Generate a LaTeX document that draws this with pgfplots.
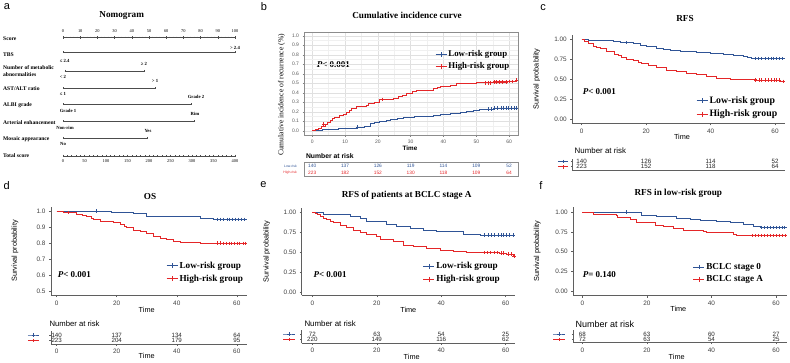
\documentclass[border=0pt]{standalone}
\usepackage{fontspec}
\setmainfont{Liberation Sans}
\newfontfamily\tnr{Liberation Serif}
\usepackage{pgfplots}
\pgfplotsset{compat=1.18}
\definecolor{kmblue}{RGB}{47,84,150}
\definecolor{kmred}{RGB}{228,38,40}
\definecolor{axgray}{RGB}{95,95,95}
\newcommand\fs[1]{\fontsize{#1}{#1}\selectfont}
\pgfplotsset{
  km/.style={scale only axis, anchor=north west, clip=false,
    axis lines*=left, axis line style={axgray, line width=0.55pt},
    tick align=outside, major tick length=2pt, tick style={axgray, line width=0.5pt},
    tick label style={font=\fs{6.4}, text=black!75},
    /pgf/number format/assume math mode=true,
    xtick={0,20,40,60},
    legend image code/.code={\draw[mark repeat=2,mark phase=2,##1] plot coordinates {(0pt,0pt) (5.5pt,0pt) (11pt,0pt)};},
    legend style={draw=none, fill=none, font=\tnr\bfseries\fs{9.2}, anchor=west, inner sep=0pt, row sep=2pt, nodes={inner sep=1.5pt}},
    legend cell align=left},
  cb/.style={kmblue, line width=0.75pt, const plot, mark=none, forget plot},
  cr/.style={kmred, line width=0.75pt, const plot, mark=none, forget plot},
  mb/.style={kmblue, only marks, mark=+, mark size=1.8pt, line width=0.6pt, forget plot},
  mr/.style={kmred, only marks, mark=+, mark size=1.8pt, line width=0.6pt, forget plot},
  lb/.style={kmblue, line width=0.8pt, mark=+, mark size=2.4pt},
  lr/.style={kmred, line width=0.8pt, mark=+, mark size=2.4pt},
  tb/.style={kmblue, line width=0.8pt, mark=+, mark size=1.8pt, mark repeat=2, mark phase=2, forget plot},
  tr/.style={kmred, line width=0.8pt, mark=+, mark size=1.8pt, mark repeat=2, mark phase=2, forget plot},
  risk/.style={scale only axis, anchor=north west, clip=false,
    axis lines*=left, axis line style={axgray, line width=0.55pt},
    tick align=outside, major tick length=1.5pt, tick style={axgray, line width=0.5pt},
    tick label style={font=\fs{6.4}, text=black!75},
    /pgf/number format/assume math mode=true,
    xtick={0,20,40,60}, yticklabels={}},
}
\begin{document}
\begin{tikzpicture}
\path[use as bounding box] (0,0) rectangle (790pt,-362pt);
% ---------- panel letters ----------
\node[font=\fs{11}] at (7pt,-7pt) {a};
\node[font=\fs{11}] at (264pt,-6.5pt) {b};
\node[font=\fs{11}] at (543pt,-7.3pt) {c};
\node[font=\fs{11}] at (6.7pt,-185.5pt) {d};
\node[font=\fs{11}] at (263.5pt,-184.5pt) {e};
\node[font=\fs{11}] at (541pt,-186pt) {f};
% ---------- titles ----------
\node[font=\tnr\bfseries\fs{9.2}] at (121.7pt,-15.7pt) {Nomogram};
\node[font=\tnr\bfseries\fs{9.2}] at (407pt,-15.7pt) {Cumulative incidence curve};
\node[font=\tnr\bfseries\fs{9.2}] at (685pt,-18.3pt) {RFS};
\node[font=\tnr\bfseries\fs{9.2}] at (150pt,-196pt) {OS};
\node[font=\tnr\bfseries\fs{9.2}] at (406.7pt,-195pt) {RFS of patients at BCLC stage A};
\node[font=\tnr\bfseries\fs{9.2}] at (678.3pt,-193.3pt) {RFS in low-risk group};
% ---------- nomogram row labels ----------
\begin{scope}[every node/.style={anchor=west, font=\tnr\bfseries\fs{5.6}, inner sep=0pt}]
\node at (3pt,-38.7pt) {Score};
\node at (3pt,-55pt) {TBS};
\node at (3pt,-67.7pt) {Number of metabolic};
\node at (3pt,-75pt) {abnormalities};
\node at (3pt,-88.7pt) {AST/ALT ratio};
\node at (3pt,-105.3pt) {ALBI grade};
\node at (3pt,-122.3pt) {Arterial enhancement};
\node at (3pt,-138.7pt) {Mosaic appearance};
\node at (3pt,-155.3pt) {Total score};
\end{scope}
% ---------- nomogram ----------
\begin{axis}[scale only axis, anchor=north west, at={(63pt,-20pt)}, width=172pt, height=150pt,
  xmin=0, xmax=100, ymin=-170, ymax=-20, hide axis, clip=false]
\addplot[black!70, line width=0.4pt] coordinates {(0,-37.3) (100,-37.3)};
\addplot[black!70, only marks, mark=|, mark size=1.2pt, line width=0.35pt] coordinates {(0,-37.3) (10,-37.3) (20,-37.3) (30,-37.3) (40,-37.3) (50,-37.3) (60,-37.3) (70,-37.3) (80,-37.3) (90,-37.3) (100,-37.3)};
\addplot[black!70, only marks, mark=|, mark size=0.6pt, line width=0.3pt] coordinates {(2,-37.3) (4,-37.3) (6,-37.3) (8,-37.3) (12,-37.3) (14,-37.3) (16,-37.3) (18,-37.3) (22,-37.3) (24,-37.3) (26,-37.3) (28,-37.3) (32,-37.3) (34,-37.3) (36,-37.3) (38,-37.3) (42,-37.3) (44,-37.3) (46,-37.3) (48,-37.3) (52,-37.3) (54,-37.3) (56,-37.3) (58,-37.3) (62,-37.3) (64,-37.3) (66,-37.3) (68,-37.3) (72,-37.3) (74,-37.3) (76,-37.3) (78,-37.3) (82,-37.3) (84,-37.3) (86,-37.3) (88,-37.3) (92,-37.3) (94,-37.3) (96,-37.3) (98,-37.3)};
\addplot[black!70, line width=0.4pt, mark=|, mark size=0.9pt] coordinates {(0,-52) (100,-52)};
\addplot[black!70, line width=0.4pt, mark=|, mark size=0.9pt] coordinates {(1,-70.7) (47.3,-70.7)};
\addplot[black!70, line width=0.4pt, mark=|, mark size=0.9pt] coordinates {(0,-88.3) (53.7,-88.3)};
\addplot[black!70, line width=0.4pt, mark=|, mark size=0.9pt] coordinates {(0,-104.3) (74.8,-104.3)};
\addplot[black!70, line width=0.4pt, mark=|, mark size=0.9pt] coordinates {(0,-121) (76.5,-121)};
\addplot[black!70, line width=0.4pt, mark=|, mark size=0.9pt] coordinates {(0,-137.7) (48.8,-137.7)};
\addplot[black!70, line width=0.4pt] coordinates {(0,-155.7) (100,-155.7)};
\addplot[black!70, only marks, mark=|, mark size=1.2pt, line width=0.35pt] coordinates {(0,-155.7) (12.5,-155.7) (25,-155.7) (37.5,-155.7) (50,-155.7) (62.5,-155.7) (75,-155.7) (87.5,-155.7) (100,-155.7)};
\addplot[black!70, only marks, mark=|, mark size=0.6pt, line width=0.3pt] coordinates {(2.5,-155.7) (5,-155.7) (7.5,-155.7) (10,-155.7) (15,-155.7) (17.5,-155.7) (20,-155.7) (22.5,-155.7) (27.5,-155.7) (30,-155.7) (32.5,-155.7) (35,-155.7) (40,-155.7) (42.5,-155.7) (45,-155.7) (47.5,-155.7) (52.5,-155.7) (55,-155.7) (57.5,-155.7) (60,-155.7) (65,-155.7) (67.5,-155.7) (70,-155.7) (72.5,-155.7) (77.5,-155.7) (80,-155.7) (82.5,-155.7) (85,-155.7) (90,-155.7) (92.5,-155.7) (95,-155.7) (97.5,-155.7)};
\begin{scope}[every node/.style={font=\tnr\fs{4.4}, inner sep=0pt}]
\node at (axis cs:0,-31.5) {0};
\node at (axis cs:10,-31.5) {10};
\node at (axis cs:20,-31.5) {20};
\node at (axis cs:30,-31.5) {30};
\node at (axis cs:40,-31.5) {40};
\node at (axis cs:50,-31.5) {50};
\node at (axis cs:60,-31.5) {60};
\node at (axis cs:70,-31.5) {70};
\node at (axis cs:80,-31.5) {80};
\node at (axis cs:90,-31.5) {90};
\node at (axis cs:100,-31.5) {100};
\node at (axis cs:0,-161.5) {0};
\node at (axis cs:12.5,-161.5) {50};
\node at (axis cs:25,-161.5) {100};
\node at (axis cs:37.5,-161.5) {150};
\node at (axis cs:50,-161.5) {200};
\node at (axis cs:62.5,-161.5) {250};
\node at (axis cs:75,-161.5) {300};
\node at (axis cs:87.5,-161.5) {350};
\node at (axis cs:100,-161.5) {400};
\end{scope}
\begin{scope}[every node/.style={font=\tnr\bfseries\fs{4.7}, inner sep=0pt}]
\node at (axis cs:100,-47.7) {> 2.4};
\node at (axis cs:1,-61) {≤ 2.4};
\node at (axis cs:47.1,-64) {≥ 2};
\node at (axis cs:0,-77) {< 2};
\node at (axis cs:53.5,-80.7) {> 1};
\node at (axis cs:0,-94.3) {≤ 1};
\node at (axis cs:77.3,-97.3) {Grade 2};
\node at (axis cs:2.9,-111) {Grade 1};
\node at (axis cs:76.7,-114.3) {Rim};
\node at (axis cs:1.2,-127.7) {Non-rim};
\node at (axis cs:49.4,-130.7) {Yes};
\node at (axis cs:0,-144.3) {No};
\end{scope}
\end{axis}
% ---------- panel b ----------
\node[font=\tnr\fs{7.6}, rotate=90] at (281.5pt,-95pt) {Cumulative incidence of recurrence (\%)};
\node[font=\bfseries\fs{6.3}] at (410pt,-148pt) {Time};
\node[font=\tnr\bfseries\fs{9}, anchor=west] at (313.3pt,-64.3pt) {{\itshape P}< 0.001};
\begin{axis}[scale only axis, anchor=north west, at={(304pt,-32.7pt)}, width=214pt, height=102.3pt,
  xmin=-2.5, xmax=62.7, ymin=-0.045, ymax=1.032, clip=false,
  axis line style={black!45, line width=0.5pt},
  xtick={0,10,20,30,40,50,60}, ytick={0,0.1,0.2,0.3,0.4,0.5,0.6,0.7,0.8,0.9,1},
  yticklabels={0.0,0.1,0.2,0.3,0.4,0.5,0.6,0.7,0.8,0.9,1.0},
  minor xtick={5,15,25,35,45,55}, minor ytick={0.05,0.15,0.25,0.35,0.45,0.55,0.65,0.75,0.85,0.95},
  grid=both, major grid style={black!12, line width=0.4pt}, minor grid style={black!6, line width=0.3pt},
  tick pos=left, tick align=outside, major tick length=1.5pt, minor tick length=0pt,
  tick style={black!50, line width=0.4pt},
  xticklabel style={font=\fs{5}, text=black!65, yshift=0.5pt},
  yticklabel style={font=\fs{5}, text=black!65},
  /pgf/number format/assume math mode=true,
  legend image code/.code={\draw[mark repeat=2,mark phase=2,#1] plot coordinates {(0pt,0pt) (5.5pt,0pt) (11pt,0pt)};},
  legend style={draw=none, fill=none, font=\tnr\bfseries\fs{8.8}, anchor=west, inner sep=0pt, row sep=1.5pt, nodes={inner sep=1.5pt}, at={(0.612,0.728)}},
  legend cell align=left]
\addlegendimage{lb}\addlegendentry{Low-risk group}
\addlegendimage{lr}\addlegendentry{High-risk group}
\addplot[cb] coordinates {(0,0) (2,0.005) (3,0.01) (4.4,0.018) (8,0.022) (10.5,0.03) (13.5,0.04) (16,0.05) (17.6,0.077) (19,0.085) (20.6,0.095) (22.5,0.105) (23.7,0.12) (26,0.13) (27.8,0.14) (31,0.148) (34.9,0.155) (37,0.165) (39,0.175) (42,0.18) (45,0.19) (47,0.2) (49,0.214) (51,0.22) (53.2,0.228) (55.2,0.24) (62.7,0.24)};
\addplot[cr] coordinates {(0,0) (1,0.01) (2,0.03) (2.8,0.05) (3.9,0.07) (4.6,0.085) (5.4,0.105) (6.2,0.125) (6.9,0.14) (8.4,0.165) (9.5,0.175) (10.5,0.19) (11.2,0.21) (12,0.235) (13.5,0.26) (16.5,0.27) (17,0.29) (19,0.295) (20.6,0.33) (24.7,0.34) (26.2,0.36) (27.5,0.375) (28.8,0.39) (30.5,0.41) (31.8,0.42) (34.9,0.43) (36.9,0.445) (38,0.46) (39,0.47) (42,0.48) (44,0.5) (50,0.505) (55.2,0.515) (60,0.52) (61.8,0.533) (62.7,0.533)};
\addplot[mb] coordinates {(13.8,0.04) (53.8,0.228) (54.6,0.228) (55.6,0.24) (56.4,0.24) (57.5,0.24) (58.3,0.24) (59,0.24) (59.8,0.24) (60.6,0.24) (61.5,0.24) (62.3,0.24)};
\addplot[mr] coordinates {(3.5,0.07) (21.5,0.33) (52.7,0.505) (53.5,0.505) (54.3,0.505) (55.4,0.515) (56.2,0.515) (57,0.515) (58,0.515) (59,0.515) (60.2,0.52) (61,0.52) (62.3,0.533)};
\end{axis}
\node[font=\bfseries\fs{6.8}, anchor=west] at (302.5pt,-156pt) {Number at risk};
\begin{axis}[scale only axis, anchor=north west, at={(304pt,-162pt)}, width=214pt, height=14pt,
  xmin=-2.5, xmax=62.7, ymin=0, ymax=14, clip=false, xtick=\empty, ytick=\empty,
  axis line style={black!45, line width=0.5pt}]
\begin{scope}[every node/.style={font=\fs{4.8}}]
\node[kmblue] at (axis cs:0,10) {140};
\node[kmblue] at (axis cs:10,10) {137};
\node[kmblue] at (axis cs:20,10) {126};
\node[kmblue] at (axis cs:30,10) {119};
\node[kmblue] at (axis cs:40,10) {114};
\node[kmblue] at (axis cs:50,10) {109};
\node[kmblue] at (axis cs:60,10) {52};
\node[kmred] at (axis cs:0,3.5) {223};
\node[kmred] at (axis cs:10,3.5) {182};
\node[kmred] at (axis cs:20,3.5) {152};
\node[kmred] at (axis cs:30,3.5) {130};
\node[kmred] at (axis cs:40,3.5) {118};
\node[kmred] at (axis cs:50,3.5) {109};
\node[kmred] at (axis cs:60,3.5) {64};
\node[kmblue, font=\fs{3.4}, anchor=east] at (axis cs:-3.6,10) {Low-risk};
\node[kmred, font=\fs{3.4}, anchor=east] at (axis cs:-3.6,3.5) {High-risk};
\end{scope}
\end{axis}
% ---------- panel c ----------
\node[font=\fs{7.3}, rotate=90] at (536.7pt,-79pt) {Survival probability};
\node[font=\fs{7.3}] at (682pt,-137pt) {Time};
\node[font=\tnr\bfseries\fs{9}, anchor=west] at (579.3pt,-91.7pt) {{\itshape P}< 0.001};
\begin{axis}[km, at={(572.3pt,-35pt)}, width=212.7pt, height=88.3pt,
  xmin=-2.9, xmax=63.1, ymin=-0.054, ymax=1.054,
  ytick={0,0.25,0.5,0.75,1}, yticklabels={0.00,0.25,0.50,0.75,1.00},
  legend style={at={(0.582,0.179)}, font=\tnr\bfseries\fs{9.8}}]
\addlegendimage{lb}\addlegendentry{Low-risk group}
\addlegendimage{lr}\addlegendentry{High-risk group}
\addplot[cb] coordinates {(0,1) (2,0.99) (4.7,0.983) (9.8,0.98) (11.9,0.962) (14,0.958) (16,0.945) (18.1,0.93) (20.2,0.908) (23.3,0.887) (25.5,0.875) (27.4,0.866) (30.5,0.854) (33,0.845) (35.7,0.837) (39.8,0.824) (44,0.81) (47,0.8) (50.2,0.78) (51.5,0.77) (52.8,0.757) (63,0.757)};
\addplot[cr] coordinates {(0,1) (0.8,0.98) (2,0.95) (3.6,0.916) (4.6,0.9) (5.7,0.88) (7.8,0.845) (10.3,0.816) (11.3,0.795) (12.4,0.774) (14,0.75) (16,0.73) (17.5,0.715) (18.6,0.7) (20.7,0.67) (23.3,0.644) (26.4,0.615) (29.5,0.594) (32.6,0.573) (35.7,0.56) (38.8,0.53) (41.9,0.51) (46,0.498) (51.2,0.494) (54.3,0.49) (61.8,0.47) (63,0.47)};
\addplot[mb] coordinates {(14,0.958) (53.8,0.757) (54.8,0.757) (55.8,0.757) (56.9,0.757) (57.8,0.757) (58.7,0.757) (59.6,0.757) (60.5,0.757) (61.4,0.757) (62.4,0.757)};
\addplot[mr] coordinates {(54,0.49) (55,0.49) (55.8,0.49) (57,0.49) (58,0.49) (58.8,0.49) (59.7,0.49) (60.5,0.49) (61.3,0.49) (62.5,0.47)};
\end{axis}
\node[font=\fs{7.9}, anchor=west] at (571.2pt,-150.7pt) {Number at risk};
\begin{axis}[risk, at={(572.3pt,-158.5pt)}, width=212.7pt, height=11.5pt,
  xmin=-2.9, xmax=63.1, ymin=0, ymax=11.5, xtick=\empty, ytick={8.7,3.3}]
\addplot[tb] coordinates {(-7.34,8.7) (-5.8,8.7) (-4.23,8.7)};
\addplot[tr] coordinates {(-7.34,3.3) (-5.8,3.3) (-4.23,3.3)};
\begin{scope}[every node/.style={font=\fs{6.2}, text=black!85}]
\node at (axis cs:0,8.7) {140};
\node at (axis cs:20,8.7) {126};
\node at (axis cs:40,8.7) {114};
\node at (axis cs:60,8.7) {52};
\node at (axis cs:0,3.3) {223};
\node at (axis cs:20,3.3) {152};
\node at (axis cs:40,3.3) {118};
\node at (axis cs:60,3.3) {64};
\end{scope}
\end{axis}
% ---------- panel d ----------
\node[font=\fs{7.3}, rotate=90] at (15pt,-250.8pt) {Survival probability};
\node[font=\fs{7.3}] at (146.7pt,-309.5pt) {Time};
\node[font=\tnr\bfseries\fs{9}, anchor=west] at (54.3pt,-275pt) {{\itshape P}< 0.001};
\begin{axis}[km, at={(51pt,-206.7pt)}, width=195.7pt, height=88.3pt,
  xmin=-1.9, xmax=63.3, ymin=0.475, ymax=1.027,
  ytick={0.5,0.6,0.7,0.8,0.9,1}, yticklabels={0.5,0.6,0.7,0.8,0.9,1.0},
  legend style={at={(0.588,0.258)}}]
\addlegendimage{lb}\addlegendentry{Low-risk group}
\addlegendimage{lr}\addlegendentry{High-risk group}
\addplot[cb] coordinates {(0,1) (18.3,0.99) (25.6,0.985) (30,0.969) (34.4,0.965) (47.8,0.954) (52.2,0.948) (63.3,0.948)};
\addplot[cr] coordinates {(0,1) (2.2,0.994) (5,0.99) (6.7,0.98) (8.5,0.972) (10,0.965) (11.5,0.955) (12.2,0.948) (14.4,0.935) (18.9,0.927) (21.1,0.917) (22.5,0.905) (23.3,0.896) (25.6,0.88) (27.8,0.87) (30,0.86) (32.2,0.844) (34.4,0.83) (36.7,0.82) (38.9,0.81) (41.1,0.802) (47.8,0.8) (55,0.797) (63.3,0.797)};
\addplot[mb] coordinates {(13.3,1) (53.6,0.948) (54.6,0.948) (55.6,0.948) (56.7,0.948) (57.6,0.948) (58.6,0.948) (59.5,0.948) (60.4,0.948) (61.4,0.948) (62.5,0.948)};
\addplot[mr] coordinates {(3.9,0.99) (53.4,0.8) (54.4,0.8) (55.5,0.797) (56.4,0.797) (57.4,0.797) (58.3,0.797) (59.2,0.797) (60.1,0.797) (61,0.797) (62,0.797) (62.8,0.797)};
\end{axis}
\node[font=\fs{7.7}, anchor=west] at (46pt,-323.5pt) {Number at risk};
\node[font=\fs{7.3}] at (146.7pt,-356pt) {Time};
\begin{axis}[risk, at={(51pt,-331pt)}, width=195.7pt, height=13pt,
  xmin=-1.9, xmax=63.3, ymin=0, ymax=13, ytick={9,3.7}]
\addplot[tb] coordinates {(-9.57,9) (-7.7,9) (-5.9,9)};
\addplot[tr] coordinates {(-9.57,3.7) (-7.7,3.7) (-5.9,3.7)};
\begin{scope}[every node/.style={font=\fs{6.2}, text=black!85}]
\node at (axis cs:0,9) {140};
\node at (axis cs:20,9) {137};
\node at (axis cs:40,9) {134};
\node at (axis cs:60,9) {64};
\node at (axis cs:0,3.7) {223};
\node at (axis cs:20,3.7) {204};
\node at (axis cs:40,3.7) {179};
\node at (axis cs:60,3.7) {95};
\end{scope}
\end{axis}
% ---------- panel e ----------
\node[font=\fs{7.3}, rotate=90] at (266.7pt,-251.5pt) {Survival probability};
\node[font=\fs{7.3}] at (408.3pt,-310pt) {Time};
\node[font=\tnr\bfseries\fs{9}, anchor=west] at (310pt,-275pt) {{\itshape P}< 0.001};
\begin{axis}[km, at={(301.7pt,-208pt)}, width=213.3pt, height=87pt,
  xmin=-3.3, xmax=62.9, ymin=-0.034, ymax=1.054,
  ytick={0,0.25,0.5,0.75,1}, yticklabels={0.00,0.25,0.50,0.75,1.00},
  legend style={at={(0.568,0.255)}}]
\addlegendimage{lb}\addlegendentry{Low-risk group}
\addlegendimage{lr}\addlegendentry{High-risk group}
\addplot[cb] coordinates {(0,1) (3.4,0.975) (11.7,0.946) (14.8,0.925) (16.9,0.883) (23.1,0.85) (26.2,0.82) (30.3,0.8) (34.4,0.78) (38.6,0.758) (46.9,0.73) (52,0.713) (62.9,0.713)};
\addplot[cr] coordinates {(0,1) (0.8,0.99) (1.5,0.975) (2.4,0.954) (3.4,0.93) (4.4,0.91) (5.5,0.89) (6.5,0.87) (8.6,0.84) (10.7,0.81) (12.7,0.78) (14.8,0.746) (16.9,0.725) (20,0.704) (21,0.66) (25.1,0.633) (28.2,0.59) (31.3,0.57) (35.5,0.55) (39.6,0.53) (43.8,0.508) (47.9,0.5) (53,0.496) (58,0.49) (60.3,0.48) (62.4,0.454) (62.9,0.454)};
\addplot[mb] coordinates {(53.5,0.713) (54.5,0.713) (55.5,0.713) (56.6,0.713) (57.6,0.713) (58.5,0.713) (59.4,0.713) (60.3,0.713) (61.2,0.713) (62.3,0.713)};
\addplot[mr] coordinates {(53.5,0.496) (54.3,0.496) (55.2,0.496) (56.5,0.496) (57.3,0.496) (58.5,0.49) (59.3,0.49) (60.8,0.48) (61.6,0.48) (62.6,0.454)};
\end{axis}
\node[font=\fs{7.9}, anchor=west] at (301pt,-323.3pt) {Number at risk};
\node[font=\fs{7.3}] at (411.7pt,-357.3pt) {Time};
\begin{axis}[risk, at={(301.7pt,-330pt)}, width=213.3pt, height=13.3pt,
  xmin=-3.3, xmax=62.9, ymin=0, ymax=13.3, ytick={9.3,4}]
\addplot[tb] coordinates {(-9,9.3) (-7.2,9.3) (-5.38,9.3)};
\addplot[tr] coordinates {(-9,4) (-7.2,4) (-5.38,4)};
\begin{scope}[every node/.style={font=\fs{6.2}, text=black!85}]
\node at (axis cs:0,9.3) {72};
\node at (axis cs:20,9.3) {63};
\node at (axis cs:40,9.3) {54};
\node at (axis cs:60,9.3) {25};
\node at (axis cs:0,4) {220};
\node at (axis cs:20,4) {149};
\node at (axis cs:40,4) {116};
\node at (axis cs:60,4) {62};
\end{scope}
\end{axis}
% ---------- panel f ----------
\node[font=\fs{7.3}, rotate=90] at (537.3pt,-251.2pt) {Survival probability};
\node[font=\fs{7.3}] at (678.3pt,-308.5pt) {Time};
\node[font=\tnr\bfseries\fs{9}, anchor=west] at (579.3pt,-275pt) {{\itshape P}= 0.140};
\begin{axis}[km, at={(573.3pt,-206.7pt)}, width=213.4pt, height=89pt,
  xmin=-2.79, xmax=63.3, ymin=-0.06, ymax=1.071,
  ytick={0,0.25,0.5,0.75,1}, yticklabels={0.00,0.25,0.50,0.75,1.00},
  legend style={at={(0.56,0.252)}}]
\addlegendimage{lb}\addlegendentry{BCLC stage 0}
\addlegendimage{lr}\addlegendentry{BCLC stage A}
\addplot[cb] coordinates {(0,1) (18.4,0.966) (23,0.945) (29.2,0.924) (33.4,0.911) (36.5,0.894) (41.6,0.881) (45.8,0.869) (49.9,0.852) (53,0.826) (55,0.805) (63.3,0.805)};
\addplot[cr] coordinates {(0,1) (3.4,0.975) (10.6,0.966) (11,0.936) (14.8,0.911) (16.8,0.873) (22.5,0.839) (25.1,0.818) (28.2,0.797) (31.3,0.775) (37.5,0.754) (38.5,0.741) (46.8,0.72) (47.8,0.703) (63.3,0.703)};
\addplot[mb] coordinates {(13.7,1) (55.5,0.805) (56.4,0.805) (57.3,0.805) (58.2,0.805) (59.1,0.805) (60,0.805) (60.9,0.805) (61.8,0.805) (62.7,0.805)};
\addplot[mr] coordinates {(52.5,0.703) (53.5,0.703) (54.5,0.703) (55.5,0.703) (56.5,0.703) (57.4,0.703) (58.3,0.703) (59.2,0.703) (60.1,0.703) (61,0.703) (61.9,0.703) (62.8,0.703)};
\end{axis}
\node[font=\fs{9}, anchor=west] at (572pt,-324pt) {Number at risk};
\node[font=\fs{7.3}] at (676.7pt,-356.7pt) {Time};
\begin{axis}[risk, at={(573.3pt,-330pt)}, width=213.4pt, height=12.7pt,
  xmin=-2.79, xmax=63.3, ymin=0, ymax=12.7, ytick={8.7,3.4}]
\addplot[tb] coordinates {(-8.98,8.7) (-7.17,8.7) (-5.36,8.7)};
\addplot[tr] coordinates {(-8.98,3.4) (-7.17,3.4) (-5.36,3.4)};
\begin{scope}[every node/.style={font=\fs{6.2}, text=black!85}]
\node at (axis cs:0,8.7) {68};
\node at (axis cs:20,8.7) {63};
\node at (axis cs:40,8.7) {60};
\node at (axis cs:60,8.7) {27};
\node at (axis cs:0,3.4) {72};
\node at (axis cs:20,3.4) {63};
\node at (axis cs:40,3.4) {54};
\node at (axis cs:60,3.4) {25};
\end{scope}
\end{axis}
\end{tikzpicture}
\end{document}
